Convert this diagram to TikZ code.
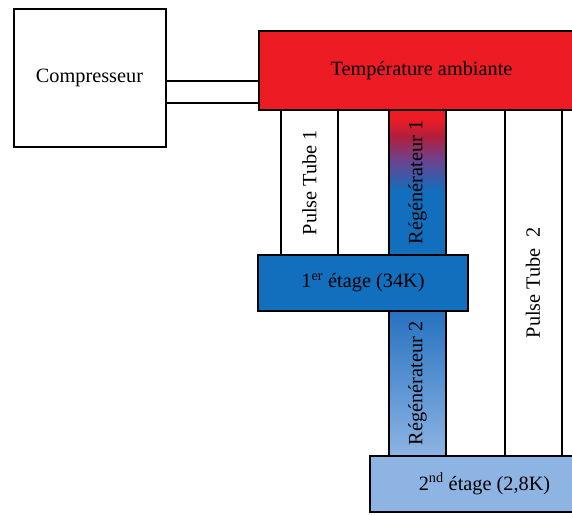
\documentclass[tikz,border=0pt]{standalone}
\usepackage{fontspec}
\setmainfont{Liberation Serif}
\usetikzlibrary{calc}
\definecolor{ambred}{RGB}{237,28,36}
\definecolor{stageone}{RGB}{17,111,189}
\definecolor{stagetwo}{RGB}{142,180,227}
\definecolor{regmid}{RGB}{38,114,192}
\definecolor{crimson}{RGB}{180,30,60}
\definecolor{purp}{RGB}{110,65,140}
\pgfdeclareverticalshading{regenA}{100bp}{color(0bp)=(stageone); color(47bp)=(stageone); color(58bp)=(purp); color(66bp)=(crimson); color(72bp)=(ambred); color(100bp)=(ambred)}
\pgfdeclareverticalshading{regenB}{100bp}{color(0bp)=(stagetwo); color(25bp)=(stagetwo); color(75bp)=(regmid); color(100bp)=(regmid)}
\begin{document}
\begin{tikzpicture}[x=1pt,y=-1pt,
  every node/.style={font=\fontsize{20.3}{24}\selectfont},
  box/.style={draw=black,line width=2pt,rectangle,inner sep=0pt},
  tube/.style={box,fill=white,minimum width=57pt},
  vtext/.style={rotate=90}]
\useasboundingbox (0,0) rectangle (572,514);
\clip (0,0) rectangle (572,514);
% tubes
\node[tube,minimum height=145pt] (pt1) at (309.5,182.5) {};
\node[tube,minimum height=346pt] (pt2) at (533,283) {};
\node[box,shading=regenA,minimum width=57pt,minimum height=145pt] (rg1) at (417.5,182.5) {};
\node[box,shading=regenB,minimum width=57pt,minimum height=145pt] (rg2) at (417.5,383.5) {};
\node[vtext] (tpt1) at (pt1.center) {Pulse Tube 1};
\node[vtext] (tpt2) at (pt2.center) {Pulse Tube\ \ 2};
\node[vtext] (trg1) at (rg1.center) {Régénérateur 1};
\node[vtext] (trg2) at (rg2.center) {Régénérateur 2};
% boxes
\node[box,fill=white,minimum width=152pt,minimum height=137.5pt] (comp) at (89.5,78) {\raisebox{-2pt}{Compresseur}};
\node[box,fill=ambred,minimum width=325pt,minimum height=79pt] (amb) at (421.5,70.5) {\raisebox{-2pt}{Température ambiante}};
\node[box,fill=stageone,minimum width=210pt,minimum height=56pt] (st1) at (363,283) {1\textsuperscript{er} étage (34K)};
\node[box,fill=stagetwo,minimum width=230pt,minimum height=56pt] (st2) at (484.5,484) {2\textsuperscript{nd} étage (2,8K)};
% connectors
\coordinate (ya) at (0,81);
\coordinate (yb) at (0,103);
\draw[line width=2pt] (comp.east |- ya) -- (amb.west |- ya);
\draw[line width=2pt] (comp.east |- yb) -- (amb.west |- yb);
\end{tikzpicture}
\end{document}
